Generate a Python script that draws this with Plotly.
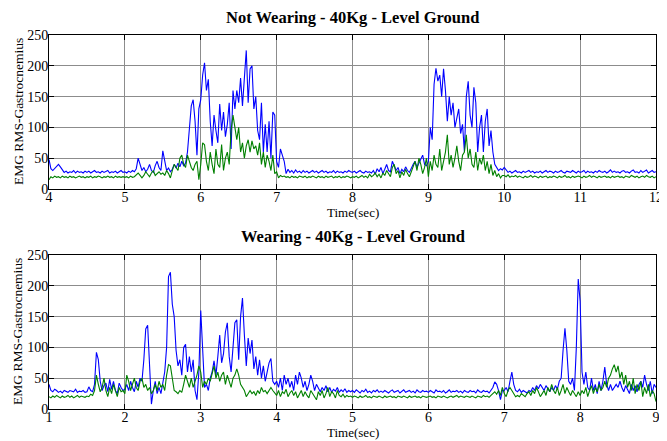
import numpy as np
import plotly.graph_objects as go

# ---------------- data (sampled every 0.025 s) ----------------
top_t0, top_t1 = 4.0, 12.0
bot_t0, bot_t1 = 1.0, 9.0
step = 0.025

top_blue = [
    48, 33, 30, 34, 38, 40, 36, 31, 27, 29, 26, 28, 27, 30, 26, 29, 27, 28, 26, 29,
    27, 29, 26, 28, 30, 27, 28, 26, 29, 27, 28, 30, 26, 28, 27, 29, 26, 28, 30, 27,
    28, 26, 29, 27, 30, 28, 33, 50, 38, 30, 35, 28, 32, 40, 30, 27, 38, 45, 35, 30,
    62, 45, 30, 34, 28, 32, 40, 34, 42, 36, 45, 38, 42, 60, 95, 135, 145, 110, 55, 130,
    145, 185, 205, 160, 178, 110, 70, 120, 95, 75, 138, 95, 125, 85, 105, 140, 65, 160, 130, 160,
    140, 180, 135, 175, 225, 140, 195, 200, 130, 150, 95, 80, 140, 60, 105, 60, 110, 50, 125, 120,
    45, 35, 65, 55, 45, 25, 32, 27, 30, 26, 31, 27, 29, 26, 30, 27, 29, 26, 28, 30,
    27, 29, 26, 28, 30, 27, 29, 26, 28, 27, 30, 26, 29, 27, 28, 26, 29, 27, 30, 28,
    27, 29, 26, 28, 30, 27, 26, 29, 27, 28, 26, 30, 24, 33, 28, 35, 25, 32, 40, 30,
    28, 45, 38, 30, 35, 25, 32, 28, 36, 30, 27, 35, 40, 45, 35, 42, 50, 55, 40, 38,
    45, 100, 80, 170, 196, 175, 185, 150, 195, 160, 110, 150, 120, 140, 100, 115, 130, 90, 105, 60,
    150, 175, 120, 100, 165, 140, 60, 100, 120, 60, 110, 130, 70, 95, 60, 40, 35, 30, 33, 31,
    35, 30, 27, 29, 26, 28, 30, 27, 28, 26, 29, 27, 28, 30, 27, 29, 26, 28, 27, 29,
    26, 28, 30, 27, 29, 28, 26, 29, 27, 28, 30, 27, 26, 29, 28, 27, 30, 28, 26, 29,
    27, 28, 30, 26, 29, 27, 28, 26, 29, 27, 30, 28, 27, 29, 26, 28, 31, 27, 29, 27,
    28, 26, 29, 30, 27, 28, 26, 29, 31, 27, 28, 26, 30, 27, 29, 31, 26, 28, 30, 27,
    28,
]

top_green = [
    15, 20, 18, 21, 19, 20, 18, 21, 19, 20, 18, 21, 19, 20, 18, 20, 21, 19, 20, 18,
    20, 19, 21, 18, 20, 19, 21, 20, 18, 20, 19, 21, 19, 20, 18, 21, 19, 20, 19, 20,
    19, 20, 18, 21, 19, 20, 24, 26, 22, 18, 22, 28, 24, 20, 26, 30, 22, 25, 28, 24,
    26, 22, 30, 25, 18, 30, 40, 35, 30, 50, 55, 40, 35, 55, 45, 35, 30, 40, 45, 15,
    40, 75, 72, 45, 30, 60, 40, 25, 65, 40, 35, 72, 30, 50, 60, 40, 95, 120, 100, 80,
    100, 60, 75, 50, 70, 80, 60, 78, 65, 70, 55, 75, 40, 60, 35, 55, 45, 30, 55, 25,
    28, 18, 22, 20, 21, 19, 20, 18, 21, 19, 20, 18, 21, 20, 19, 21, 18, 20, 19, 21,
    20, 18, 21, 19, 20, 18, 21, 19, 20, 21, 18, 20, 19, 21, 18, 20, 19, 21, 20, 18,
    20, 19, 21, 18, 20, 22, 19, 21, 18, 24, 20, 22, 26, 20, 24, 18, 26, 22, 30, 24,
    20, 35, 40, 25, 30, 18, 28, 22, 32, 25, 20, 28, 35, 45, 30, 50, 40, 25, 35, 50,
    20, 45, 30, 55, 40, 35, 65, 30, 45, 60, 88, 40, 55, 35, 50, 70, 45, 30, 55, 60,
    88, 50, 65, 40, 35, 60, 30, 50, 40, 55, 30, 45, 25, 40, 22, 30, 20, 25, 18, 22,
    22, 20, 23, 19, 21, 20, 22, 19, 21, 20, 18, 21, 19, 20, 22, 19, 21, 20, 18, 21,
    19, 20, 21, 18, 20, 19, 21, 20, 18, 21, 19, 20, 22, 19, 20, 18, 21, 19, 20, 21,
    20, 18, 21, 19, 20, 22, 19, 21, 20, 18, 21, 19, 20, 21, 19, 20, 18, 21, 19, 20,
    21, 19, 20, 18, 21, 20, 19, 22, 20, 19, 21, 18, 20, 21, 19, 22, 20, 19, 21, 18,
    20,
]

bot_blue = [
    40, 30, 28, 32, 30, 27, 29, 26, 30, 28, 27, 30, 29, 28, 32, 27, 29, 28, 30, 27,
    28, 36, 30, 28, 40, 92, 80, 45, 30, 38, 42, 28, 48, 32, 45, 30, 25, 42, 35, 30,
    32, 40, 30, 45, 35, 28, 45, 35, 50, 45, 80, 130, 136, 60, 8, 30, 45, 25, 35, 25,
    45, 60, 100, 215, 222, 170, 150, 95, 70, 80, 55, 100, 105, 60, 85, 60, 80, 30, 15, 60,
    160, 100, 35, 40, 30, 50, 60, 78, 55, 85, 120, 75, 90, 125, 140, 85, 60, 100, 140, 145,
    80, 150, 180, 120, 70, 115, 90, 112, 65, 85, 55, 80, 50, 70, 45, 60, 75, 82, 45, 40,
    45, 35, 50, 30, 55, 40, 50, 35, 45, 30, 55, 40, 60, 50, 35, 45, 30, 40, 55, 45,
    30, 40, 35, 28, 35, 30, 38, 28, 35, 27, 32, 29, 35, 27, 31, 28, 33, 27, 30, 28,
    30, 27, 31, 28, 26, 30, 28, 32, 27, 29, 26, 30, 28, 31, 27, 29, 27, 30, 28, 26,
    29, 31, 27, 28, 30, 26, 29, 31, 27, 28, 30, 27, 29, 26, 31, 28, 27, 30, 28, 29,
    27, 30, 28, 26, 31, 28, 29, 27, 30, 26, 28, 31, 27, 29, 28, 30, 27, 29, 26, 30,
    28, 27, 30, 28, 29, 26, 31, 28, 27, 30, 28, 29, 26, 30, 35, 44, 40, 30, 15, 30,
    30, 35, 28, 45, 60, 40, 30, 28, 32, 27, 30, 28, 26, 30, 28, 35, 30, 38, 33, 40,
    35, 30, 38, 32, 28, 35, 30, 38, 32, 45, 50, 95, 131, 95, 45, 40, 50, 30, 100, 211,
    175, 60, 40, 60, 35, 30, 50, 30, 40, 25, 45, 30, 45, 68, 40, 30, 40, 30, 35, 40,
    35, 45, 35, 28, 38, 30, 25, 40, 30, 38, 28, 40, 45, 35, 55, 40, 30, 45, 25, 40,
    35,
]

bot_green = [
    20, 18, 21, 19, 22, 20, 18, 21, 19, 20, 22, 19, 21, 18, 20, 22, 19, 21, 20, 19,
    21, 20, 24, 22, 30, 55, 40, 28, 35, 50, 30, 20, 35, 25, 40, 30, 20, 35, 28, 30,
    25, 55, 45, 30, 40, 50, 35, 30, 45, 50, 35, 40, 30, 35, 25, 30, 40, 30, 45, 35,
    40, 30, 55, 72, 70, 45, 30, 28, 25, 30, 27, 40, 55, 45, 35, 50, 35, 45, 55, 70,
    60, 35, 45, 40, 50, 45, 60, 70, 50, 60, 45, 55, 60, 40, 55, 45, 35, 50, 55, 65,
    55, 40, 35, 30, 20, 25, 30, 25, 28, 22, 30, 25, 35, 28, 30, 25, 30, 35, 30, 25,
    22, 30, 20, 28, 25, 32, 20, 26, 30, 22, 28, 18, 25, 30, 20, 28, 22, 18, 30, 25,
    20, 15, 28, 22, 30, 18, 25, 35, 20, 28, 25, 18, 30, 22, 20, 24, 19, 22, 20, 21,
    19, 21, 20, 18, 21, 19, 20, 22, 19, 20, 18, 21, 20, 19, 21, 20, 18, 21, 19, 20,
    21, 19, 20, 18, 21, 20, 19, 21, 20, 18, 21, 19, 20, 21, 19, 20, 18, 21, 20, 19,
    20, 21, 19, 20, 18, 21, 20, 19, 21, 20, 18, 20, 21, 19, 20, 22, 19, 21, 20, 19,
    21, 20, 19, 21, 20, 18, 21, 20, 19, 22, 20, 21, 19, 22, 25, 28, 24, 30, 22, 35,
    25, 20, 30, 35, 30, 25, 20, 22, 20, 25, 22, 20, 25, 28, 22, 30, 25, 35, 28, 20,
    25, 30, 22, 35, 28, 40, 30, 25, 35, 22, 30, 40, 25, 35, 28, 22, 30, 25, 20, 28,
    22, 30, 25, 35, 20, 30, 38, 25, 35, 28, 40, 30, 35, 45, 35, 50, 55, 65, 72, 60,
    70, 50, 60, 40, 55, 35, 45, 30, 50, 25, 40, 30, 45, 20, 35, 25, 40, 20, 30, 25,
    12,
]

titles = ["Not Wearing - 40Kg - Level Ground", "Wearing - 40Kg - Level Ground"]
top_ticks = [4, 5, 6, 7, 8, 9, 10, 11, 12]
bot_ticks = [1, 2, 3, 4, 5, 6, 7, 8, 9]
y_ticks = [0, 50, 100, 150, 200, 250]
x_label = "Time(sec)"
y_label = "EMG RMS-Gastrocnemius"

# ---------------- figure ----------------
t_top = np.round(top_t0 + step * np.arange(len(top_blue)), 4)
t_bot = np.round(bot_t0 + step * np.arange(len(bot_blue)), 4)

FONT = "Liberation Serif"
BLUE = "#0000FF"
GREEN = "#008000"

fig = go.Figure()
fig.add_trace(go.Scatter(x=t_top, y=top_blue, mode="lines", line=dict(color=BLUE, width=1.1),
                         xaxis="x", yaxis="y", showlegend=False))
fig.add_trace(go.Scatter(x=t_top, y=top_green, mode="lines", line=dict(color=GREEN, width=1.1),
                         xaxis="x", yaxis="y", showlegend=False))
fig.add_trace(go.Scatter(x=t_bot, y=bot_blue, mode="lines", line=dict(color=BLUE, width=1.1),
                         xaxis="x2", yaxis="y2", showlegend=False))
fig.add_trace(go.Scatter(x=t_bot, y=bot_green, mode="lines", line=dict(color=GREEN, width=1.1),
                         xaxis="x2", yaxis="y2", showlegend=False))

axis_common = dict(
    showline=True, linecolor="black", linewidth=1, mirror="ticks",
    ticks="inside", ticklen=5, tickcolor="black",
    showgrid=True, gridcolor="#8c8c8c", gridwidth=1,
    zeroline=False, tickfont=dict(family=FONT, size=14, color="black"),
)

fig.update_layout(
    width=659, height=433,
    margin=dict(l=41, r=4, t=27, b=32),
    paper_bgcolor="white", plot_bgcolor="white",
    font=dict(family=FONT, color="black"),
    xaxis=dict(domain=[0, 1], range=[top_t0, top_t1], tickvals=top_ticks, anchor="y",
               ticklabelstandoff=-5, **axis_common),
    yaxis=dict(domain=[0.5882, 1.0], range=[0, 250], tickvals=y_ticks, anchor="x",
               ticklabelstandoff=-3, **axis_common),
    xaxis2=dict(domain=[0, 1], range=[bot_t0, bot_t1], tickvals=bot_ticks, anchor="y2",
                ticklabelstandoff=-5, **axis_common),
    yaxis2=dict(domain=[0.0, 0.4118], range=[0, 250], tickvals=y_ticks, anchor="x2",
                ticklabelstandoff=-3, **axis_common),
)

annotations = []
for title, ytop, ybot in [(titles[0], 1.0, 0.5882), (titles[1], 0.4118, 0.0)]:
    annotations.append(dict(text="<b>" + title + "</b>", xref="paper", yref="paper",
                            x=0.5, y=ytop, yshift=18, xanchor="center", yanchor="middle",
                            showarrow=False, font=dict(family=FONT, size=16.5, color="black")))
    annotations.append(dict(text=x_label, xref="paper", yref="paper",
                            x=0.5, y=ybot, yshift=-23, xanchor="center", yanchor="middle",
                            showarrow=False, font=dict(family=FONT, size=13, color="black")))
    annotations.append(dict(text=y_label, xref="paper", yref="paper",
                            x=0, xshift=-31, y=(ytop + ybot) / 2, xanchor="center", yanchor="middle",
                            textangle=-90, showarrow=False,
                            font=dict(family=FONT, size=13.5, color="black")))
fig.update_layout(annotations=annotations)

fig.write_html("out.html")
